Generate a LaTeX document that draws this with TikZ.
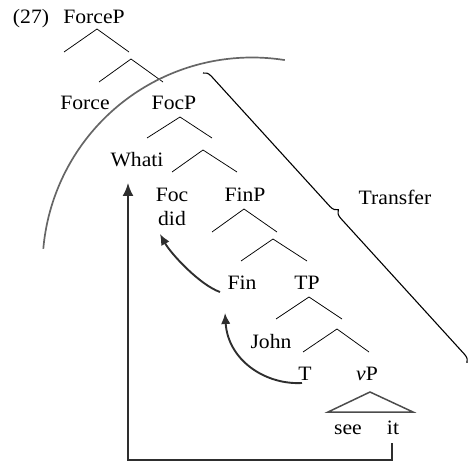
\documentclass[tikz,border=0pt]{standalone}
\usepackage{fontspec}
\setmainfont{Liberation Serif}[FakeStretch=1.06]
\usetikzlibrary{arrows.meta,decorations.pathreplacing}
\begin{document}
\begin{tikzpicture}[x=1bp,y=-1bp,
  lbl/.style={anchor=base, inner sep=0pt, font=\fontsize{20.5}{24}\selectfont},
  br/.style={line width=0.75pt, black},
  tri/.style={line width=1.5pt, draw=black!70, line join=miter},
  mv/.style={line width=1.9pt, draw=black!82, -{Latex[length=11bp,width=9.5bp]}},
  mvlong/.style={line width=1.9pt, draw=black!82, -{Latex[length=13bp,width=11bp]}},
  phase/.style={line width=1.7pt, draw=black!60},
  transferline/.style={line width=1.1pt, black, decorate,
    decoration={brace, amplitude=8bp, aspect=0.49}}
]
\useasboundingbox (0,0) rectangle (469,465);

% labels
\node[lbl] (ex) at (31,24) {(27)};
\node[lbl] (forceP) at (94,24) {ForceP};
\node[lbl] (force) at (85,110) {Force};
\node[lbl] (focP) at (174,110) {FocP};
\node[lbl] (whati) at (137,167) {Whati};
\node[lbl] (foc) at (172,202) {Foc};
\node[lbl] (did) at (172,226) {did};
\node[lbl] (finP) at (245,202) {FinP};
\node[lbl] (fin) at (242,289) {Fin};
\node[lbl] (tp) at (307,289) {TP};
\node[lbl] (john) at (271,348) {John};
\node[lbl] (t) at (305,380) {T};
\node[lbl] (vp) at (367,380) {\textit{v}P};
\node[lbl] (see) at (348,434) {see};
\node[lbl] (it) at (393,434) {it};
\node[lbl] (transfer) at (395,205) {Transfer};

% tree branches
\foreach \n/\ax/\ay/\lx/\ly/\rx/\ry in {
  1/97/29/64/52/129/52,
  2/131/59/99/82/163/82,
  3/180/117/147/138/212/138,
  4/203/150/172/172/237/172,
  5/244/209/212/232/277/232,
  6/273/239/241/261/307/261,
  7/309/297/276/319/342/319,
  8/337/329/303/352/369/352}{
  \coordinate (a\n) at (\ax,\ay);
  \coordinate (l\n) at (\lx,\ly);
  \coordinate (r\n) at (\rx,\ry);
  \draw[br] (l\n) -- (a\n) -- (r\n);
}

% triangle under vP
\coordinate (ta) at (370,392);
\coordinate (tl) at (328,412);
\coordinate (tr) at (413,412);
\draw[tri] (ta) -- (tl) -- (tr) -- cycle;

% phase boundary arc
\coordinate (arcc) at (252,267);
\draw[phase] (arcc) ++(-175:209.5) arc[start angle=-175, end angle=-81, radius=209.5];

% Transfer brace
\coordinate (bt) at (203,73);
\coordinate (bb) at (467,363);
\draw[transferline] (bt) -- (bb);

% movement arrows
\coordinate (m1s) at (220,292);
\coordinate (m1e) at (160,234);
\draw[mv] (m1s) .. controls (200,285) and (171,254) .. (m1e);

\coordinate (m2s) at (302,383);
\coordinate (m2e) at (225,313);
\draw[mv] (m2s) .. controls (265,385) and (228,360) .. (m2e);

\coordinate (itd) at (392,443);
\coordinate (cbr) at (392,460);
\coordinate (cbl) at (128,460);
\coordinate (wtip) at (128,183);
\draw[mvlong] (itd) -- (cbr) -- (cbl) -- (wtip);
\end{tikzpicture}
\end{document}
